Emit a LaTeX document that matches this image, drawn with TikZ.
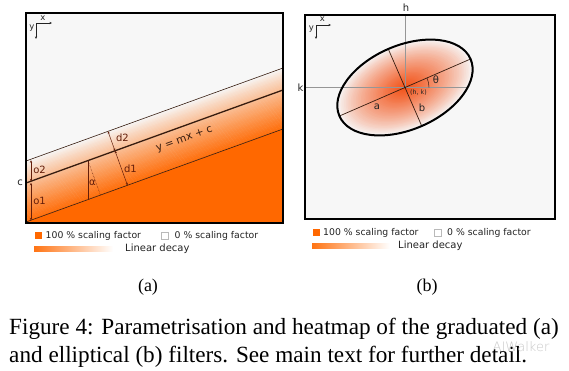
\documentclass[tikz,border=0pt]{standalone}
\usepackage{fontspec}
\setmainfont{Liberation Serif}
\newfontfamily\dv{DejaVu Sans}
\newfontfamily\dvl{DejaVu Sans ExtraLight}
\usetikzlibrary{arrows.meta}
\definecolor{hot}{RGB}{255,104,0}
\definecolor{hotr}{RGB}{242,78,18}
\definecolor{bgc}{RGB}{247,247,247}
\definecolor{annc}{RGB}{100,30,10}
\definecolor{linec}{RGB}{55,28,15}
\definecolor{txtc}{RGB}{35,35,35}
\definecolor{guide}{RGB}{150,150,150}
\begin{document}
\begin{tikzpicture}[x=1pt,y=1pt,
  frame/.style={draw=black,line width=1.3pt},
  lbl/.style={inner sep=0pt,font=\dv\fontsize{10}{10}\selectfont,text=annc},
  plain/.style={inner sep=0pt,font=\dv\fontsize{10}{10}\selectfont,text=txtc},
  axisarrow/.style={draw=txtc,line width=0.5pt,-{Stealth[length=2.6pt,width=2.2pt]}},
  dim/.style={draw=annc,line width=0.5pt,{Stealth[length=2.6pt,width=2.2pt]}-{Stealth[length=2.6pt,width=2.2pt]}},
  leg/.style={inner sep=0pt,anchor=west,font=\dv\fontsize{9.3}{10}\selectfont,text=txtc},
  legb/.style={inner sep=0pt,anchor=west,font=\dv\fontsize{10}{10}\selectfont,text=txtc},
  sublabel/.style={inner sep=0pt,anchor=base,font=\fontsize{18}{20}\selectfont},
  captext/.style={inner sep=0pt,anchor=base west,font=\fontsize{23.2}{27}\selectfont}]
\useasboundingbox (0,0) rectangle (569,-370);
\fill[white] (0,0) rectangle (569,-370);

% ================= panel (a) =================
\fill[bgc] (26,-13) rectangle (283,-223);
\foreach \i in {0,...,47}{
  \pgfmathsetmacro\va{\i*61/48}
  \pgfmathsetmacro\vb{(\i+1)*61/48+0.4}
  \pgfmathtruncatemacro\p{96*(1-(\i+0.5)/48)^0.85}
  \fill[hot!\p!bgc] (26,\va-222) -- (283,\va-129) -- (283,\vb-129) -- (26,\vb-222) -- cycle;
}
\fill[hot] (26,-222) -- (283,-129) -- (283,-223) -- (26,-223) -- cycle;

\coordinate (T0) at (26,-161); \coordinate (T1) at (283,-68);
\coordinate (M0) at (26,-183); \coordinate (M1) at (283,-90);
\coordinate (B0) at (26,-222); \coordinate (B1) at (283,-129);
\draw[linec,line width=0.6pt] (T0) -- (T1);
\draw[linec,line width=1.3pt] (M0) -- (M1);
\draw[linec,line width=0.6pt] (B0) -- (B1);

% offsets o2, o1
\coordinate (o2a) at (31,-160.2); \coordinate (o2b) at (31,-181.4);
\coordinate (o1a) at (31,-182.8); \coordinate (o1b) at (31,-220.4);
\draw[dim] (o2a) -- (o2b);
\draw[dim] (o1a) -- (o1b);
\node[lbl] (lo2) at (39.5,-170) {o2};
\node[lbl] (lo1) at (39.5,-201) {o1};
\node[plain] (lc) at (20,-183) {c};

% distances d2, d1
\coordinate (P) at (115,-150.8);
\coordinate (Pt) at ([shift={(109.89:20.7)}]P);
\coordinate (Pb) at ([shift={(-70.11:36.7)}]P);
\draw[dim] (Pt) -- (P);
\draw[dim] (P) -- (Pb);
\node[lbl] (ld2) at (122.5,-138) {d2};
\node[lbl] (ld1) at (130.5,-168.5) {d1};

% angle alpha
\coordinate (Q) at (88,-160.6);
\coordinate (Qv) at (88,-199.6);
\coordinate (Qd) at ([shift={(-70.11:36.7)}]Q);
\draw[annc,line width=0.4pt] (Q) -- (Qv);
\draw[annc,line width=0.5pt,densely dotted] (Q) -- (Qd);
\node[lbl] (lal) at (92.5,-183) {α};

\node[inner sep=0pt,font=\dv\fontsize{10.5}{10.5}\selectfont,text=linec,rotate=19.89] (leq) at (184.5,-139.5) {y = mx + c};

% small axes (a)
\coordinate (ax0) at (36,-23); \coordinate (axx) at (52,-23); \coordinate (axy) at (36,-39);
\draw[axisarrow] (ax0) -- (axx);
\draw[axisarrow] (ax0) -- (axy);
\node[plain,font=\dv\fontsize{8.5}{8.5}\selectfont] (lxa) at (43,-18) {x};
\node[plain,font=\dv\fontsize{8.5}{8.5}\selectfont] (lya) at (32,-28.5) {y};

\draw[frame] (26,-13) rectangle (283,-223);

% legend (a)
\fill[hot] (35,-232) rectangle (42,-239);
\node[leg] (la1) at (45.5,-235.5) {100 \% scaling factor};
\draw[gray!55,fill=white,line width=0.4pt] (161,-232) rectangle (168,-239);
\node[leg] (la2) at (174.5,-235.5) {0 \% scaling factor};
\shade[left color=hot!92,middle color=hot!55,right color=white] (34,-246) rectangle (113,-251.5);
\node[legb] (la3) at (125,-249) {Linear decay};

% ================= panel (b) =================
\fill[bgc] (305,-15) rectangle (555,-219);
\coordinate (ec) at (405,-87.5);
\foreach \i in {0,...,39}{
  \pgfmathsetmacro\rr{1-\i/40}
  \pgfmathtruncatemacro\p{100*(\i/40)^0.8}
  \fill[hotr!\p!bgc,rotate around={23.5:(ec)}] (ec) ellipse [x radius=\rr*71.5pt, y radius=\rr*42pt];
}
\coordinate (hk0) at (305,-87.5); \coordinate (hk1) at (467.7,-87.5);
\coordinate (hh0) at (405,-15);
\draw[guide,line width=0.5pt] (hk0) -- (hk1);
\draw[guide,line width=0.5pt] (hh0) -- (ec);
\coordinate (A1) at ([shift={(23.5:71.5)}]ec);
\coordinate (A2) at ([shift={(203.5:71.5)}]ec);
\coordinate (Bm1) at ([shift={(113.5:42)}]ec);
\coordinate (Bm2) at ([shift={(-66.5:42)}]ec);
\draw[linec,line width=0.7pt] (A2) -- (A1);
\draw[linec,line width=0.7pt] (Bm1) -- (Bm2);
\draw[linec,line width=0.5pt] ([shift={(0:24)}]ec) arc[start angle=0,end angle=23.5,radius=24];
\fill[linec] (ec) circle (1pt);
\draw[black,line width=2pt,rotate around={23.5:(ec)}] (ec) ellipse [x radius=71.5pt, y radius=42pt];

\node[plain] (lh) at (406,-8) {h};
\node[plain] (lk) at (300.5,-87.5) {k};
\node[plain] (lth) at (436,-80) {θ};
\node[plain] (la) at (377,-107) {a};
\node[plain] (lb) at (422,-107.5) {b};
\node[plain,font=\dv\fontsize{6.3}{6.3}\selectfont] (lhk) at (418.5,-93) {(h, k)};

% small axes (b)
\coordinate (bx0) at (316,-25); \coordinate (bxx) at (331,-25); \coordinate (bxy) at (316,-39);
\draw[axisarrow] (bx0) -- (bxx);
\draw[axisarrow] (bx0) -- (bxy);
\node[plain,font=\dv\fontsize{8.5}{8.5}\selectfont] (lxb) at (322.5,-19) {x};
\node[plain,font=\dv\fontsize{8.5}{8.5}\selectfont] (lyb) at (311.5,-29.5) {y};

\draw[frame] (305,-15) rectangle (555,-219);

% legend (b)
\fill[hot] (313,-229) rectangle (320,-236);
\node[leg] (lb1) at (323,-232.5) {100 \% scaling factor};
\draw[gray!55,fill=white,line width=0.4pt] (434,-229) rectangle (441,-236);
\node[leg] (lb2) at (447,-232.5) {0 \% scaling factor};
\shade[left color=hot!92,middle color=hot!55,right color=white] (312,-243) rectangle (390,-248.5);
\node[legb] (lb3) at (398,-245.5) {Linear decay};

% ================= captions =================
\node[sublabel] (sa) at (148,-291.5) {(a)};
\node[sublabel] (sb) at (427,-291.5) {(b)};
\node[captext] (c1) at (9,-334) {Figure 4: Parametrisation and heatmap of the graduated (a)};
\node[captext] (c2) at (9,-362) {and elliptical (b) filters. See main text for further detail.};
\node[inner sep=0pt,font=\dvl\fontsize{13}{13}\selectfont,text=black!25,opacity=0.85] (wm) at (521,-347) {AIWalker};
\end{tikzpicture}
\end{document}
